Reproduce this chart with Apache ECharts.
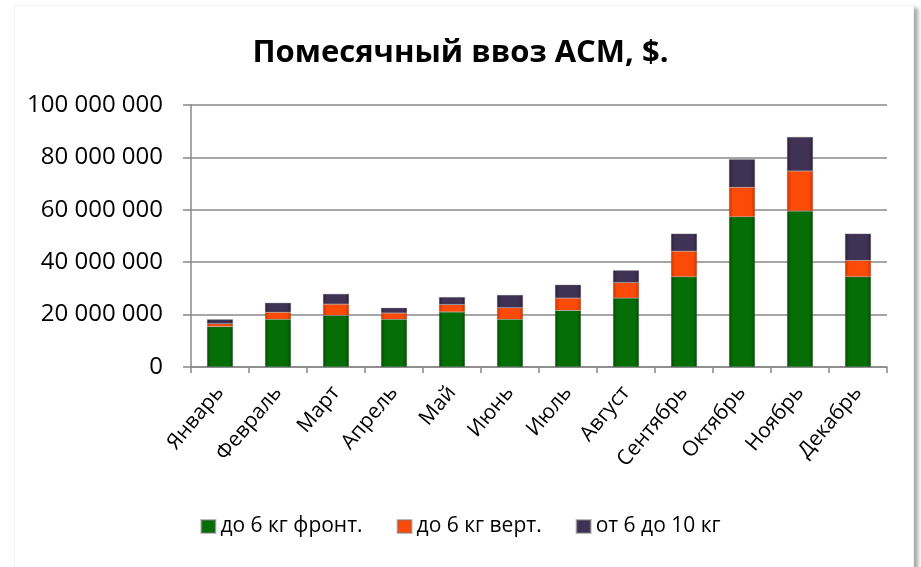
<!DOCTYPE html>
<html>
<head>
<meta charset="utf-8">
<script src="https://cdn.jsdelivr.net/npm/echarts@6/dist/echarts.min.js"></script>
<style>
  html, body { margin: 0; padding: 0; background: #fff; }
  .frame {
    position: absolute; left: 14px; top: 5px; width: 898px; height: 600px;
    border: 1px solid #f2f2f2;
    box-shadow: 4px 3px 4px rgba(0,0,0,0.35);
    background: #fff;
  }
  #chart { position: absolute; left: 0; top: 0; width: 921px; height: 567px; }
</style>
</head>
<body>
<div class="frame"></div>
<div id="chart"></div>
<script>
// помесячные данные, $
var months = ['Январь', 'Февраль', 'Март', 'Апрель', 'Май', 'Июнь', 'Июль', 'Август', 'Сентябрь', 'Октябрь', 'Ноябрь', 'Декабрь'];
var frontUpTo6 = [15400000, 18200000, 19700000, 18200000, 21000000, 18200000, 21600000, 26300000, 34400000, 57300000, 59500000, 34400000];
var vertUpTo6 = [1100000, 2700000, 4300000, 2400000, 2800000, 4400000, 4700000, 5900000, 9800000, 11300000, 15300000, 6300000];
var from6to10 = [1700000, 3600000, 3900000, 2000000, 2900000, 4900000, 5100000, 4700000, 6700000, 10700000, 13000000, 10200000];
var seriesNames = ['до 6 кг фронт.', 'до 6 кг верт.', 'от 6 до 10 кг'];

var fontFam = '"Open Sans", sans-serif';

function bevel(edge, mid) {
  return new echarts.graphic.LinearGradient(0, 0, 1, 0, [
    { offset: 0, color: edge },
    { offset: 0.15, color: mid },
    { offset: 0.85, color: mid },
    { offset: 1, color: edge }
  ]);
}

function fmt(v) {
  return String(v).replace(/\B(?=(\d{3})+(?!\d))/g, ' ');
}

var chartDom = document.getElementById('chart');
var myChart = echarts.init(chartDom);
var option;

var styles = [
  bevel('#024a02', '#066e06'),
  bevel('#c83400', '#fc4a08'),
  bevel('#2a2038', '#3f3254')
];
var dataSets = [frontUpTo6, vertUpTo6, from6to10];

option = {
  animation: false,
  title: {
    text: 'Помесячный ввоз АСМ, $.',
    left: 'center',
    top: 33,
    textStyle: { fontFamily: fontFam, fontSize: 31, fontWeight: 'bold', color: '#000' }
  },
  legend: {
    top: 511,
    left: 'center',
    itemWidth: 14,
    itemHeight: 13,
    itemGap: 34,
    icon: 'rect',
    textStyle: { fontFamily: fontFam, fontSize: 21, color: '#000' }
  },
  grid: { left: 191, right: 34, top: 105, bottom: 200, containLabel: false },
  xAxis: {
    type: 'category',
    data: months,
    axisLine: { lineStyle: { color: '#888', width: 1.5 } },
    axisTick: { show: true, length: 6, lineStyle: { color: '#888', width: 1.5 } },
    axisLabel: {
      rotate: 50, margin: 22, interval: 0,
      fontFamily: fontFam, fontSize: 21, color: '#000'
    }
  },
  yAxis: {
    type: 'value',
    min: 0, max: 100000000, interval: 20000000,
    axisLine: { show: true, lineStyle: { color: '#888', width: 1.5 } },
    axisTick: { show: true, inside: false, length: 8, lineStyle: { color: '#888', width: 1.5 } },
    splitLine: { lineStyle: { color: '#888', width: 1.5 } },
    axisLabel: {
      margin: 28, fontFamily: fontFam, fontSize: 24, color: '#000',
      formatter: fmt
    }
  },
  series: dataSets.map(function (d, i) {
    return {
      name: seriesNames[i],
      type: 'bar',
      stack: 'total',
      barWidth: 26,
      data: d,
      itemStyle: {
        color: styles[i],
        borderColor: 'rgba(120,120,120,0.5)',
        borderWidth: 0.5
      }
    };
  })
};

option && myChart.setOption(option);
</script>
</body>
</html>
